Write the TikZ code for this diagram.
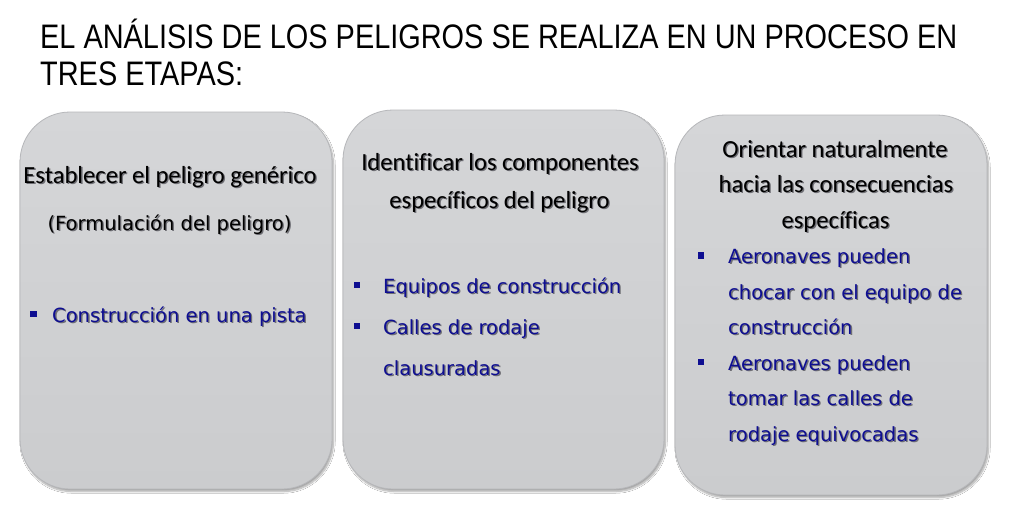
\documentclass[tikz,border=0pt]{standalone}
\usepackage{xcolor}
\usepackage{fontspec}
\usepackage{tikz}
\usetikzlibrary{shadows.blur}

\newfontfamily\titlefont[FakeStretch=0.85]{Liberation Sans}
\newfontfamily\headfont[Ligatures=NoCommon]{Carlito}
\newfontfamily\bodyfont{DejaVu Sans}

\definecolor{stagetop}{RGB}{213,214,216}
\definecolor{stagebot}{RGB}{203,204,206}
\definecolor{stagerim}{RGB}{182,183,186}
\definecolor{itemblue}{RGB}{14,14,145}
\definecolor{txtshade}{RGB}{110,110,116}

% soft offset copy under a text
\newcommand{\shtxt}[1]{\leavevmode\rlap{\raisebox{-1.3pt}{\hspace{1.3pt}\textcolor{txtshade}{#1}}}#1}

\tikzset{
  stage/.style={rectangle, rounded corners=50pt, draw=stagerim, line width=0.8pt,
    top color=stagetop, bottom color=stagebot, inner sep=0pt,
    blur shadow={shadow blur steps=8, shadow xshift=1.5pt, shadow yshift=-2.5pt, shadow opacity=35}},
  titletxt/.style={font=\titlefont\fontsize{34}{38}\selectfont, inner sep=0pt, anchor=base west},
  headtxt/.style={font=\headfont\fontsize{24.6}{28}\selectfont, inner sep=0pt, anchor=base},
  subtxt/.style={font=\bodyfont\fontsize{19.5}{23}\selectfont, inner sep=0pt, anchor=base},
  itemtxt/.style={font=\bodyfont\fontsize{19.5}{23}\selectfont, inner sep=0pt, anchor=base west, text=itemblue},
  sq/.style={rectangle, fill=itemblue, minimum size=6.5pt, inner sep=0pt}
}

\begin{document}
\begin{tikzpicture}[x=1pt, y=-1pt]
    \useasboundingbox [fill=white] (0,0) rectangle (1024,504);

    % Title
    \node[titletxt] (title1) at (40,48) {EL ANÁLISIS DE LOS PELIGROS SE REALIZA EN UN PROCESO EN};
    \node[titletxt] (title2) at (40,85) {TRES ETAPAS:};

    % Stages
    \node[stage, minimum width=312pt, minimum height=377pt] (stageA) at (176,300.5) {};
    \node[stage, minimum width=321pt, minimum height=379pt] (stageB) at (503.5,299.5) {};
    \node[stage, minimum width=312pt, minimum height=380pt] (stageC) at (831,305) {};

    % Stage 1
    \node[headtxt] (headA1) at (170,183) {\shtxt{Establecer el peligro genérico}};
    \node[subtxt] (headA2) at (169.5,230) {\shtxt{(Formulación del peligro)}};
    \node[sq] (bulA1) at (33.5,314) {};
    \node[itemtxt] (itemA1) at (52,322) {\shtxt{Construcción en una pista}};

    % Stage 2
    \node[headtxt] (headB1) at (500,170) {\shtxt{Identificar los componentes}};
    \node[headtxt] (headB2) at (499.5,208) {\shtxt{específicos del peligro}};
    \node[sq] (bulB1) at (357,285) {};
    \node[itemtxt] (itemB1) at (383,293) {\shtxt{Equipos de construcción}};
    \node[sq] (bulB2) at (357,326) {};
    \node[itemtxt] (itemB2) at (383,334) {\shtxt{Calles de rodaje}};
    \node[itemtxt] (itemB3) at (383,375) {\shtxt{clausuradas}};

    % Stage 3
    \node[headtxt] (headC1) at (835,157) {\shtxt{Orientar naturalmente}};
    \node[headtxt] (headC2) at (836,192.5) {\shtxt{hacia las consecuencias}};
    \node[headtxt] (headC3) at (835.5,228) {\shtxt{específicas}};
    \node[sq] (bulC1) at (701,255.5) {};
    \node[itemtxt] (itemC1) at (728,263.5) {\shtxt{Aeronaves pueden}};
    \node[itemtxt] (itemC2) at (728,299) {\shtxt{chocar con el equipo de}};
    \node[itemtxt] (itemC3) at (728,334.5) {\shtxt{construcción}};
    \node[sq] (bulC2) at (701,362) {};
    \node[itemtxt] (itemC4) at (728,370) {\shtxt{Aeronaves pueden}};
    \node[itemtxt] (itemC5) at (728,405.5) {\shtxt{tomar las calles de}};
    \node[itemtxt] (itemC6) at (728,441) {\shtxt{rodaje equivocadas}};

\end{tikzpicture}
\end{document}
